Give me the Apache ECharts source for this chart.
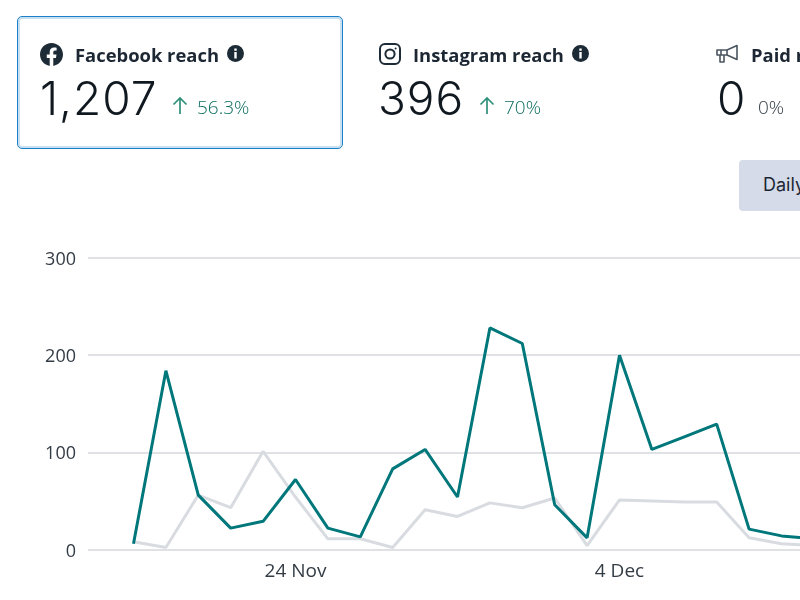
<!DOCTYPE html>
<html>
<head>
<meta charset="utf-8">
<script src="https://cdn.jsdelivr.net/npm/echarts@6/dist/echarts.min.js"></script>
<style>
  html, body { margin: 0; width: 800px; height: 600px; overflow: hidden; background: #fff; }
  body { position: relative; font-family: "Open Sans", sans-serif; color: #1c2b36; }
  #chart { position: absolute; left: 0; top: 0; width: 880px; height: 600px; }
  .abs { position: absolute; white-space: nowrap; }
  #active { left: 17px; top: 16px; width: 324px; height: 131px; border: 1px solid #1b80c6; border-radius: 5px; box-shadow: inset 0 0 0 2px #c9dff2; }
  .title { font-size: 18.4px; font-weight: 700; line-height: 24px; top: 43px; color: #1c2733; }
  .big { font-family: Inter, sans-serif; font-weight: 300; font-size: 46px; letter-spacing: 1px; line-height: 54px; top: 71px; color: #101820; }
  .pct { font-size: 19px; font-weight: 300; line-height: 24px; top: 95px; color: #0f6f60; }
  .pct.flat { color: #2f3a44; }
  #daily { left: 739px; top: 160px; width: 90px; height: 51px; background: #d5dbe8; border-radius: 4px; }
  #dailyText { left: 763px; top: 173px; font-family: Inter, sans-serif; font-size: 18px; line-height: 24px; color: #1c2733; }
  svg { position: absolute; }
</style>
</head>
<body>
<div id="chart"></div>

<div id="active" class="abs"></div>
<div id="daily" class="abs"></div>
<div id="dailyText" class="abs"></div>

<!-- facebook -->
<svg style="left:40px;top:43px" width="23" height="23" viewBox="0 0 24 24"><path fill="#1c2b36" d="M24 12.073c0-6.627-5.373-12-12-12s-12 5.373-12 12c0 5.99 4.388 10.954 10.125 11.854v-8.385H7.078v-3.47h3.047V9.43c0-3.007 1.792-4.669 4.533-4.669 1.312 0 2.686.235 2.686.235v2.953H15.83c-1.491 0-1.956.925-1.956 1.874v2.25h3.328l-.532 3.47h-2.796v8.385C19.612 23.027 24 18.062 24 12.073z"/></svg>
<!-- instagram -->
<svg style="left:379px;top:43px" width="22" height="22" viewBox="0 0 22 22" fill="none" stroke="#1c2b36" stroke-width="2"><rect x="1" y="1" width="20" height="20" rx="5"/><circle cx="11" cy="11" r="4.6"/><circle cx="16.6" cy="5.4" r="1" fill="#1c2b36" stroke="none"/></svg>
<!-- megaphone -->
<svg style="left:716px;top:44px" width="24" height="20" viewBox="0 0 24 20" fill="none" stroke="#4a5560" stroke-width="1.6" stroke-linejoin="round"><path d="M1 6h10l10-4.5v14L11 11H1z"/><path d="M4 11v7h4v-7"/><path d="M5 6v5M11 6v5"/></svg>
<!-- info icons -->
<svg style="left:227px;top:45px" width="17" height="17" viewBox="0 0 17 17"><circle cx="8.5" cy="8.5" r="8.5" fill="#1c2b36"/><rect x="7.3" y="7" width="2.4" height="6.5" fill="#fff"/><rect x="7.3" y="3.5" width="2.4" height="2.3" fill="#fff"/></svg>
<svg style="left:572px;top:45px" width="17" height="17" viewBox="0 0 17 17"><circle cx="8.5" cy="8.5" r="8.5" fill="#1c2b36"/><rect x="7.3" y="7" width="2.4" height="6.5" fill="#fff"/><rect x="7.3" y="3.5" width="2.4" height="2.3" fill="#fff"/></svg>
<!-- up arrows -->
<svg style="left:172px;top:96px" width="16" height="19" viewBox="0 0 16 19" fill="none" stroke="#2f9079" stroke-width="1.7"><path d="M8 18V2M1.5 8.5L8 2l6.5 6.5"/></svg>
<svg style="left:479px;top:96px" width="16" height="19" viewBox="0 0 16 19" fill="none" stroke="#2f9079" stroke-width="1.7"><path d="M8 18V2M1.5 8.5L8 2l6.5 6.5"/></svg>

<script>
  // daily values
  var days = ['2023-11-19', '2023-11-20', '2023-11-21', '2023-11-22', '2023-11-23', '2023-11-24',
    '2023-11-25', '2023-11-26', '2023-11-27', '2023-11-28', '2023-11-29', '2023-11-30',
    '2023-12-01', '2023-12-02', '2023-12-03', '2023-12-04', '2023-12-05', '2023-12-06',
    '2023-12-07', '2023-12-08', '2023-12-09', '2023-12-10'];
  var currentReach = [6, 184, 56, 22, 29, 72, 22, 13, 83, 103, 54, 228, 212, 46, 12, 200, 103, 116, 129, 21, 14, 11];
  var previousReach = [8, 2, 56, 43, 101, 54, 11, 11, 2, 41, 34, 48, 43, 53, 4, 51, 50, 49, 49, 12, 6, 4];
  var xTicks = ['2023-11-24', '2023-12-04'];
  var xTickLabels = ['24 Nov', '4 Dec'];
  var yTicks = [0, 100, 200, 300];

  // the tiles above the chart
  var tileTitles = ['Facebook reach', 'Instagram reach', 'Paid reach'];
  var tileTitleX = [75, 413, 751];
  var tileValues = ['1,207', '396', '0'];
  var tileValueX = [40, 378, 717];
  var tileChanges = ['56.3%', '70%', '0%'];
  var tileChangeX = [197, 504, 758];

  function addText (cls, text, left) {
    var el = document.createElement('div');
    el.className = 'abs ' + cls;
    el.style.left = left + 'px';
    el.textContent = text;
    document.body.appendChild(el);
  }
  tileTitles.forEach(function (t, i) {
    addText('title', t, tileTitleX[i]);
    addText('big', tileValues[i], tileValueX[i]);
    addText(i === 2 ? 'pct flat' : 'pct', tileChanges[i], tileChangeX[i]);
  });
  document.getElementById('dailyText').textContent = 'Daily';

  var DAY = 24 * 3600 * 1000;
  function toTime (d) {
    var p = d.split('-');
    return new Date(+p[0], +p[1] - 1, +p[2]).getTime();
  }
  function pairs (values) {
    return values.map(function (v, i) { return [toTime(days[i]), v]; });
  }

  var chart = echarts.init(document.getElementById('chart'), null, { renderer: 'canvas' });
  var firstDay = toTime(days[0]);
  var times = xTicks.map(toTime);
  var option = {
    animation: false,
    textStyle: { fontFamily: '"Open Sans", sans-serif' },
    grid: { left: 88, right: 0, top: 258, bottom: 50.5, containLabel: false },
    xAxis: {
      // plain value axis on timestamps, time axis chokes on customValues
      type: 'value',
      // the first point sits about 1.4 days inside the plot
      min: firstDay - 1.404 * DAY,
      max: firstDay + 23.04 * DAY,
      axisLine: { show: false },
      axisTick: { show: false },
      splitLine: { show: false },
      axisLabel: {
        customValues: times,
        margin: 13,
        fontSize: 19,
        color: '#333c45',
        formatter: function (v) {
          return xTickLabels[times.indexOf(v)];
        }
      }
    },
    yAxis: {
      type: 'value',
      min: 0,
      max: yTicks[yTicks.length - 1],
      interval: 100,
      axisLine: { show: false },
      axisTick: { show: false },
      splitLine: { lineStyle: { color: '#dfe1e4', width: 2 } },
      axisLabel: {
        margin: 12,
        formatter: '{a|{value}}',
        // extra top padding nudges the labels down onto their lines
        rich: { a: { fontSize: 18, color: '#333c45', padding: [4, 0, 0, 0] } }
      }
    },
    series: [{
      type: 'line',
      data: pairs(previousReach),
      showSymbol: false,
      lineStyle: { color: '#d8dce1', width: 3 },
      itemStyle: { color: '#d8dce1' },
      z: 2
    }, {
      type: 'line',
      data: pairs(currentReach),
      showSymbol: false,
      lineStyle: { color: '#00777a', width: 3 },
      itemStyle: { color: '#00777a' },
      z: 3
    }]
  };
  chart.setOption(option, true);
</script>
</body>
</html>
